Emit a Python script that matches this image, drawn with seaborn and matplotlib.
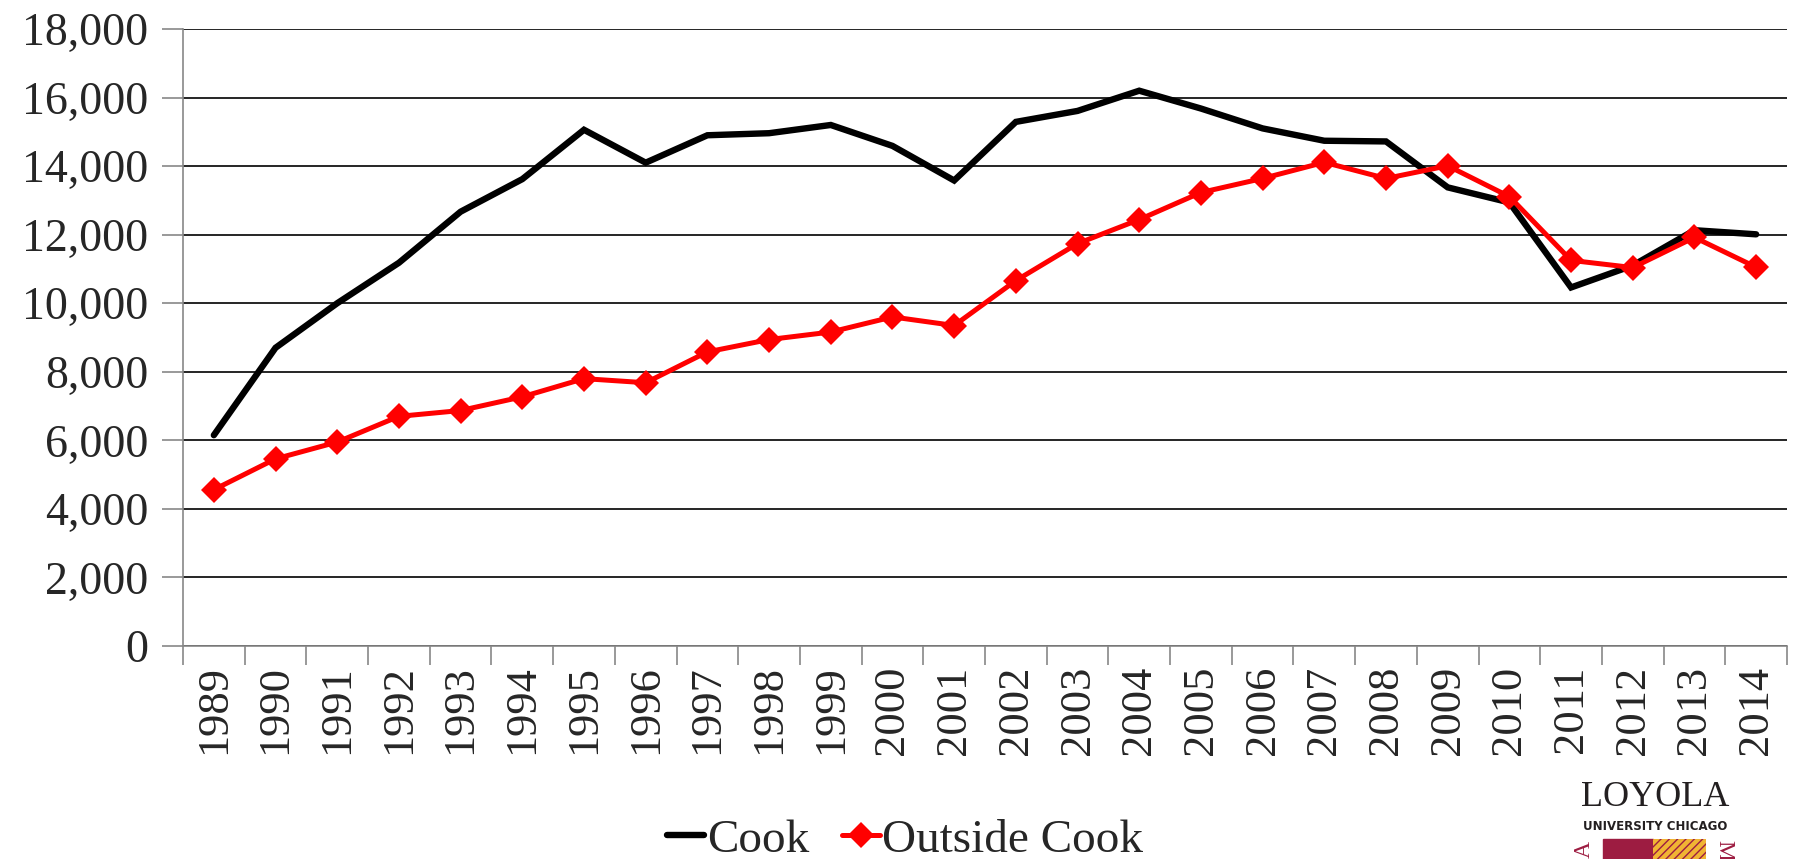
import numpy as np
import pandas as pd
import matplotlib
matplotlib.use("Agg")
import matplotlib.pyplot as plt
import matplotlib.patches as mpatches
from matplotlib.ticker import FuncFormatter, FixedLocator
import seaborn as sns

# data
years = [str(y) for y in range(1989, 2015)]
cook = [6150, 8700, 10000, 11180, 12670, 13620, 15060, 14100, 14900, 14960,
        15200, 14590, 13580, 15290, 15610, 16200, 15680, 15100, 14740, 14720,
        13380, 12940, 10460, 11100, 12130, 12010]
outside_cook = [4560, 5460, 5950, 6700, 6870, 7270, 7800, 7680, 8580, 8940,
                9160, 9600, 9350, 10660, 11740, 12440, 13230, 13640, 14110, 13640,
                14010, 13110, 11250, 11040, 11920, 11050]

sns.set_theme(style="white")
plt.rcParams["font.family"] = ["Liberation Serif", "DejaVu Serif"]

df = pd.DataFrame({
    "pos": np.arange(len(years)),
    "Cook": cook,
    "Outside Cook": outside_cook,
})

fig = plt.figure(figsize=(17.96, 8.59), dpi=100)
ax = fig.add_axes([183 / 1796, 1 - 646 / 859, (1787 - 183) / 1796, (646 - 29) / 859])

sns.lineplot(data=df, x="pos", y="Cook", ax=ax, color="black",
             linewidth=4.6, label="Cook", solid_joinstyle="miter")
sns.lineplot(data=df, x="pos", y="Outside Cook", ax=ax, color="#ff0000",
             linewidth=3.6, marker="D", markersize=13, markeredgewidth=0,
             label="Outside Cook")

ax.set_xlim(-0.5, len(years) - 0.5)
ax.set_ylim(0, 18000)
ax.set_yticks(range(0, 18001, 2000))
ax.yaxis.set_major_formatter(FuncFormatter(lambda v, p: f"{int(v):,}"))
ax.grid(axis="y", color="black", linewidth=1.2)
ax.set_axisbelow(True)

# category boundaries get the tick marks, centres get the labels
ax.xaxis.set_major_locator(FixedLocator(np.arange(-0.5, len(years), 1.0)))
ax.xaxis.set_minor_locator(FixedLocator(np.arange(len(years))))
ax.set_xticklabels([], minor=False)
ax.set_xticklabels(years, minor=True, rotation=90)
ax.tick_params(axis="x", which="major", length=14, width=1.2, color="#888888",
               direction="out", bottom=True)
ax.tick_params(axis="x", which="minor", length=0, pad=14, labelsize=32)
ax.tick_params(axis="y", length=15, width=1.2, color="#888888", direction="out",
               left=True, labelsize=33, pad=10)
ax.set_xlabel("")
ax.set_ylabel("")

for side in ["top", "right"]:
    ax.spines[side].set_visible(False)
for side in ["left", "bottom"]:
    ax.spines[side].set_color("#888888")
    ax.spines[side].set_linewidth(1.2)

leg = ax.legend(loc="center",
                bbox_to_anchor=((905 - 183) / 1604, -(840 - 646) / 617),
                ncol=2, frameon=False, fontsize=34, handlelength=0.8,
                handletextpad=0.05, columnspacing=0.7)

# Loyola logo in the lower right corner
fig.text(1655 / 1796, 1 - 798 / 859, "LOYOLA", ha="center", va="center",
         fontsize=26, color="#231f20")
fig.text(1655 / 1796, 1 - 826 / 859, "UNIVERSITY CHICAGO", ha="center",
         va="center", fontsize=8.5, fontweight="bold", color="#231f20",
         family=["DejaVu Sans"])
fig.patches.append(mpatches.Rectangle((1603 / 1796, 0), 50 / 1796, 20 / 859,
                                      transform=fig.transFigure,
                                      color="#9d1c41", zorder=3))
fig.patches.append(mpatches.Rectangle((1653 / 1796, 0), 53 / 1796, 20 / 859,
                                      transform=fig.transFigure,
                                      facecolor="#f1b434", edgecolor="#9d1c41",
                                      hatch="////", linewidth=0, zorder=3))
fig.text(1584 / 1796, 1 - 850 / 859, "A", ha="center", va="center",
         fontsize=17, color="#9d1c41", rotation=90)
fig.text(1724 / 1796, 1 - 850 / 859, "M", ha="center", va="center",
         fontsize=17, color="#9d1c41", rotation=-90)

fig.savefig("out.png", dpi=100)
